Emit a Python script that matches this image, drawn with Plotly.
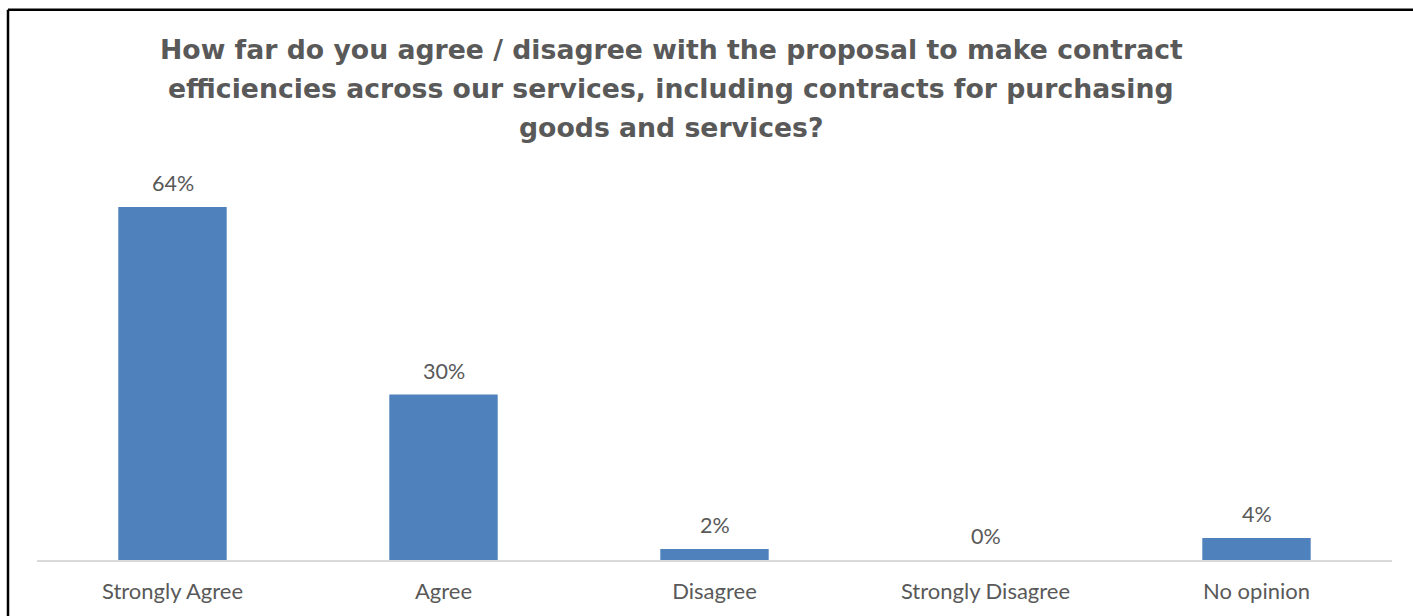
import plotly.graph_objects as go

categories = ["Strongly Agree", "Agree", "Disagree", "Strongly Disagree", "No opinion"]
percentages = [64, 30, 2, 0, 4]
title_lines = [
    "How far do you agree / disagree with the proposal to make contract",
    "efficiencies across our services, including contracts for purchasing",
    "goods and services?",
]

W, H = 1413, 616
M_L, M_R, M_T, M_B = 37, 21, 174, 54
plot_w = W - M_L - M_R
plot_h = H - M_T - M_B

def px_x(px):
    return (px - M_L) / plot_w

def px_y(py):
    return (H - M_B - py) / plot_h

bar_color = "#4F81BD"
text_color = "#595959"
label_font = "Lato, Open Sans, sans-serif"

fig = go.Figure(
    go.Bar(
        x=categories,
        y=percentages,
        marker=dict(color=bar_color, line=dict(width=0)),
        hoverinfo="skip",
    )
)

annotations = []
for cat, val in zip(categories, percentages):
    annotations.append(dict(
        x=cat, y=val, xref="x", yref="y",
        text=f"{val}%", showarrow=False,
        yanchor="bottom", yshift=9,
        font=dict(family=label_font, size=21.5, color=text_color),
    ))

title_centers = [49, 88, 127]
for line, cy in zip(title_lines, title_centers):
    annotations.append(dict(
        x=px_x(671), y=px_y(cy), xref="paper", yref="paper",
        text=f"<b>{line}</b>", showarrow=False,
        xanchor="center", yanchor="middle",
        font=dict(family="DejaVu Sans, Liberation Sans, sans-serif", size=26.7, color=text_color),
    ))

shapes = [
    dict(type="line", xref="paper", yref="paper",
         x0=px_x(8), y0=px_y(9), x1=px_x(W + 5), y1=px_y(9),
         line=dict(color="black", width=2.5)),
    dict(type="line", xref="paper", yref="paper",
         x0=px_x(8), y0=px_y(9), x1=px_x(8), y1=px_y(H + 5),
         line=dict(color="black", width=2.5)),
]

fig.update_layout(
    width=W, height=H,
    margin=dict(l=M_L, r=M_R, t=M_T, b=M_B, pad=0),
    paper_bgcolor="white", plot_bgcolor="white",
    bargap=0.6,
    showlegend=False,
    annotations=annotations,
    shapes=shapes,
    xaxis=dict(
        showline=True, linecolor="#D9D9D9", linewidth=1.5,
        showgrid=False, ticks="", ticklabelstandoff=11,
        tickfont=dict(family=label_font, size=22, color=text_color),
        fixedrange=True,
    ),
    yaxis=dict(
        range=[0, 70], visible=False, showgrid=False, zeroline=False,
        fixedrange=True,
    ),
)

fig.write_html("out.html")
